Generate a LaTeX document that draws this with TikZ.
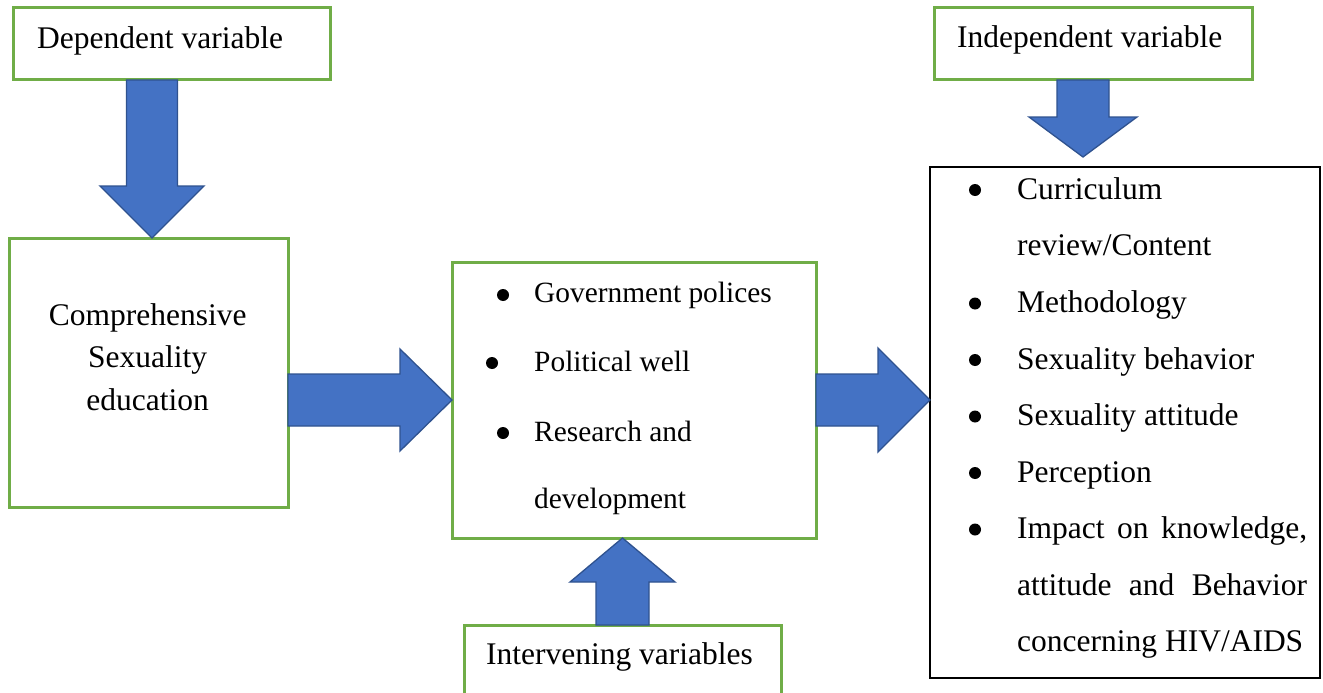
\documentclass[tikz,border=0pt]{standalone}
\usepackage{fontspec}
\setmainfont{Liberation Serif}
\usetikzlibrary{calc,positioning}

\definecolor{boxgreen}{HTML}{70AD47}
\definecolor{arrowblue}{HTML}{4472C4}
\definecolor{arrowedge}{HTML}{2F528F}

\tikzset{
  greenbox/.style={draw=boxgreen, line width=3pt, fill=white, rectangle, outer sep=0pt, inner sep=0pt},
  blackbox/.style={draw=black, line width=2.2pt, fill=white, rectangle, outer sep=0pt, inner sep=0pt},
  arrowfill/.style={fill=arrowblue, draw=arrowedge, line width=1.3pt, line join=miter},
  itemtext/.style={anchor=base west, inner sep=0pt},
  smalltext/.style={font=\fontsize{29.4}{40}\selectfont},
}

% block arrow: from, to, shaft half width, head half width, head length
\newcommand\blockarrow[5]{%
  \coordinate (ba-h) at ($(#2)!#5!(#1)$);
  \draw[arrowfill] ($(#1)!#3!90:(#2)$) -- ($(ba-h)!#3!90:(#2)$) -- ($(ba-h)!#4!90:(#2)$)
    -- (#2) -- ($(ba-h)!#4!-90:(#2)$) -- ($(ba-h)!#3!-90:(#2)$) -- ($(#1)!#3!-90:(#2)$) -- cycle;}

\begin{document}
\begin{tikzpicture}[x=1pt, y=-1pt, font=\fontsize{31.5}{42.5}\selectfont]
\clip (0,0) rectangle (1323,693);
\fill[white] (0,0) rectangle (1323,693);

% Boxes
\node[greenbox, minimum width=317pt, minimum height=72pt] (dep) at (171.5,44) {};
\node[anchor=base west, inner sep=0pt] at (37,49) {Dependent variable};

\node[greenbox, minimum width=318pt, minimum height=72pt] (indep) at (1093,44) {};
\node[anchor=base west, inner sep=0pt] at (957,48) {Independent variable};

\node[greenbox, minimum width=279pt, minimum height=269pt] (cse) at (148.5,372.5) {};
\node[anchor=base, inner sep=0pt] at (147.7,325) {Comprehensive};
\node[anchor=base, inner sep=0pt] at (147.7,367) {Sexuality};
\node[anchor=base, inner sep=0pt] at (147.7,410) {education};

\node[greenbox, minimum width=364pt, minimum height=276pt] (mid) at (634,400) {};
\node[itemtext, smalltext] at (534,302) {Government polices};
\node[itemtext, smalltext] at (534,371) {Political well};
\node[itemtext, smalltext] at (534,441) {Research and};
\node[itemtext, smalltext] at (534,508) {development};
\fill (503,295) circle (6pt);
\fill (492,363) circle (6pt);
\fill (503,433) circle (6pt);

\node[greenbox, minimum width=317pt, minimum height=90pt] (int) at (622.5,670) {};
\node[anchor=base, inner sep=0pt] at (619.5,664) {Intervening variables};

\node[blackbox, minimum width=390pt, minimum height=511pt] (list) at (1125,422.5) {};
\node[itemtext] at (1017,199) {Curriculum};
\node[itemtext] at (1017,255.5) {review/Content};
\node[itemtext] at (1017,312.5) {Methodology};
\node[itemtext] at (1017,369) {Sexuality behavior};
\node[itemtext] at (1017,425.5) {Sexuality attitude};
\node[itemtext] at (1017,482) {Perception};
\node[itemtext] at (1017,538.5) {\makebox[290pt][s]{Impact on knowledge,}};
\node[itemtext] at (1017,595) {\makebox[290pt][s]{attitude and Behavior}};
\node[itemtext] at (1017,651.5) {concerning HIV/AIDS};
\foreach \yb in {199,312.5,369,425.5,482,538.5}
  \fill (975,\yb-9) circle (6pt);

% Arrows
\coordinate (dtip) at (152,238);
\coordinate (itip) at (1083,157);
\blockarrow{dtip |- dep.south}{dtip}{25.5pt}{52pt}{52pt}
\blockarrow{cse.east |- mid.west}{mid.west}{26pt}{51pt}{52pt}
\blockarrow{int.north}{int.north |- mid.south}{26.5pt}{52.5pt}{44pt}
\blockarrow{mid.east}{list.west |- mid.east}{26pt}{52pt}{52pt}
\blockarrow{itip |- indep.south}{itip}{26pt}{54pt}{40pt}
\end{tikzpicture}
\end{document}
